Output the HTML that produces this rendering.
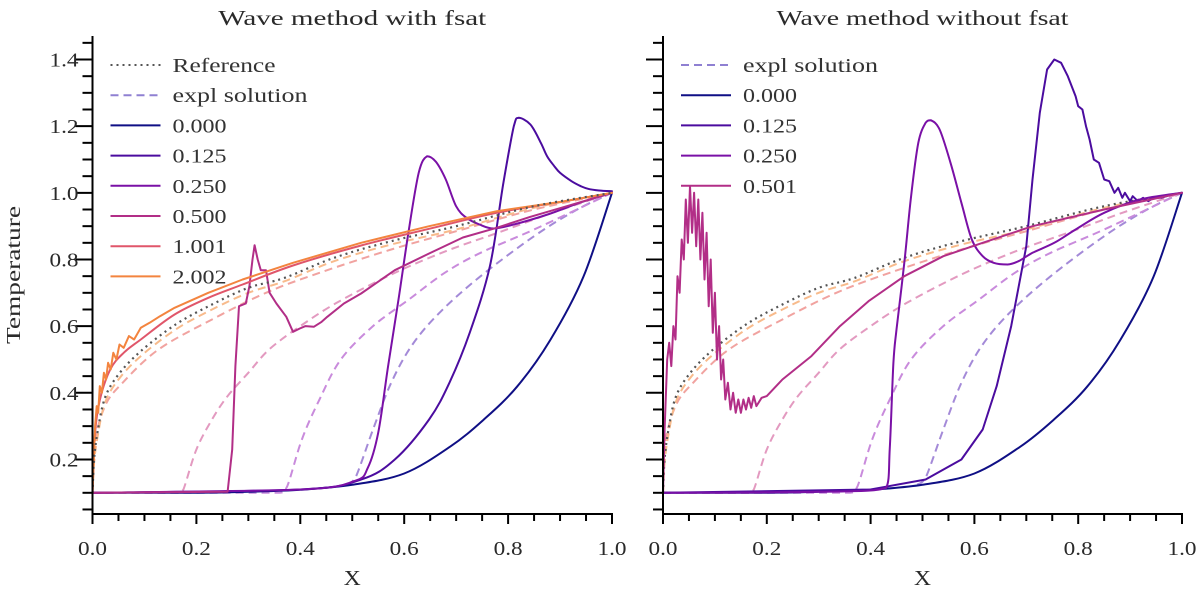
<!DOCTYPE html>
<html><head><meta charset="utf-8">
<style>
html,body{margin:0;padding:0;background:#fff;}
svg{display:block;font-family:"Liberation Serif","DejaVu Serif",serif;}
</style></head>
<body>
<svg id="chart" width="1200" height="590" viewBox="0 0 1200 590"></svg>
<script>
// ---------- shared data ----------
const xTicks = [0.0, 0.2, 0.4, 0.6, 0.8, 1.0];
const yTicks = [0.2, 0.4, 0.6, 0.8, 1.0, 1.2, 1.4];
const legendLeft = ["Reference", "expl solution", "0.000", "0.125", "0.250", "0.500", "1.001", "2.002"];
const legendRight = ["expl solution", "0.000", "0.125", "0.250", "0.501"];

const refX = [0, 0.003, 0.01, 0.024, 0.05, 0.093, 0.16, 0.23, 0.3, 0.37, 0.465, 0.575, 0.7, 0.85, 1.0];
const refY = [0.1, 0.2, 0.285, 0.385, 0.455, 0.525, 0.605, 0.665, 0.715, 0.745, 0.805, 0.855, 0.9, 0.96, 1.0];

const navyX = [0, 0.2, 0.3, 0.4, 0.5, 0.6, 0.688, 0.752, 0.817, 0.881, 0.945, 1.0];
const navyY = [0.1, 0.1, 0.103, 0.109, 0.124, 0.158, 0.238, 0.318, 0.418, 0.558, 0.748, 1.0];

const e125X = [0.49, 0.506, 0.54, 0.575, 0.616, 0.671, 0.747, 0.85, 0.933, 1.0];
const e125Y = [0.125, 0.145, 0.29, 0.43, 0.545, 0.645, 0.75, 0.87, 0.95, 1.0];
const e250X = [0, 0.36, 0.375, 0.403, 0.437, 0.478, 0.54, 0.609, 0.678, 0.747, 0.85, 1.0];
const e250Y = [0.1, 0.1, 0.12, 0.26, 0.38, 0.5, 0.6, 0.68, 0.76, 0.82, 0.89, 1.0];
const e500X = [0, 0.165, 0.175, 0.2, 0.23, 0.26, 0.3, 0.34, 0.4, 0.47, 0.575, 0.68, 0.78, 0.885, 1.0];
const e500Y = [0.1, 0.1, 0.11, 0.23, 0.32, 0.39, 0.46, 0.53, 0.6, 0.67, 0.755, 0.825, 0.88, 0.94, 1.0];
const e1X = [0, 0.003, 0.024, 0.058, 0.127, 0.23, 0.334, 0.437, 0.575, 0.712, 0.85, 1.0];
const e1Y = [0.1, 0.24, 0.36, 0.43, 0.53, 0.62, 0.70, 0.76, 0.83, 0.89, 0.95, 1.0];
const e2X = [0, 0.003, 0.01, 0.024, 0.05, 0.093, 0.16, 0.23, 0.3, 0.37, 0.465, 0.575, 0.7, 0.85, 1.0];
const e2Y = [0.1, 0.19, 0.27, 0.37, 0.44, 0.51, 0.59, 0.65, 0.7, 0.735, 0.795, 0.845, 0.89, 0.955, 1.0];

// ---------- left panel (with fsat) ----------
const L125X = [0, 0.4, 0.517, 0.582, 0.648, 0.687, 0.726, 0.765, 0.791, 0.811, 0.82, 0.843, 0.863, 0.875, 0.889, 0.9, 0.922, 0.94, 0.954, 0.975, 1.0];
const L125Y = [0.1, 0.11, 0.14, 0.2, 0.32, 0.43, 0.58, 0.78, 1.03, 1.2, 1.225, 1.205, 1.15, 1.11, 1.08, 1.06, 1.035, 1.02, 1.012, 1.007, 1.005];
const L250X = [0, 0.4, 0.504, 0.53, 0.55, 0.569, 0.589, 0.608, 0.628, 0.644, 0.661, 0.68, 0.7, 0.72, 0.745, 0.772, 0.811, 0.876, 0.941, 1.0];
const L250Y = [0.1, 0.11, 0.135, 0.175, 0.28, 0.48, 0.68, 0.88, 1.06, 1.11, 1.093, 1.04, 0.96, 0.925, 0.905, 0.893, 0.905, 0.935, 0.972, 1.0];
const L500X = [0, 0.26, 0.269, 0.275, 0.282, 0.295, 0.302, 0.308, 0.312, 0.318, 0.324, 0.334, 0.341, 0.354, 0.373, 0.386, 0.399, 0.41, 0.426, 0.44, 0.452, 0.484, 0.517, 0.582, 0.648, 0.713, 0.778, 0.843, 0.909, 1.0];
const L500Y = [0.1, 0.103, 0.23, 0.48, 0.66, 0.668, 0.72, 0.8, 0.843, 0.8, 0.768, 0.768, 0.7, 0.668, 0.628, 0.583, 0.593, 0.6, 0.598, 0.612, 0.628, 0.668, 0.698, 0.768, 0.818, 0.866, 0.895, 0.928, 0.958, 1.0];
const L1X = [0, 0.005, 0.014, 0.034, 0.06, 0.093, 0.158, 0.223, 0.289, 0.386, 0.517, 0.648, 0.778, 0.909, 1.0];
const L1Y = [0.1, 0.28, 0.378, 0.47, 0.52, 0.56, 0.635, 0.685, 0.725, 0.782, 0.842, 0.892, 0.94, 0.975, 1.0];
const L2X = [0, 0.005, 0.008, 0.011, 0.014, 0.018, 0.022, 0.026, 0.03, 0.035, 0.04, 0.046, 0.052, 0.06, 0.07, 0.08, 0.093, 0.11, 0.13, 0.158, 0.223, 0.289, 0.386, 0.517, 0.648, 0.778, 0.909, 1.0];
const L2Y = [0.1, 0.3, 0.36, 0.34, 0.42, 0.4, 0.46, 0.44, 0.49, 0.47, 0.52, 0.5, 0.545, 0.535, 0.57, 0.56, 0.595, 0.61, 0.63, 0.655, 0.7, 0.74, 0.79, 0.85, 0.9, 0.945, 0.975, 1.0];

// ---------- right panel (without fsat) ----------
const R125X = [0, 0.4, 0.506, 0.575, 0.616, 0.643, 0.671, 0.7, 0.712, 0.726, 0.74, 0.754, 0.767, 0.78, 0.795, 0.8, 0.808, 0.815, 0.822, 0.83, 0.84, 0.85, 0.86, 0.87, 0.877, 0.885, 0.89, 0.9, 0.905, 0.915, 0.925, 0.935, 0.945, 0.96, 0.98, 1.0];
const R125Y = [0.1, 0.11, 0.14, 0.2, 0.29, 0.42, 0.6, 0.84, 1.04, 1.24, 1.37, 1.4, 1.39, 1.35, 1.29, 1.26, 1.25, 1.2, 1.16, 1.1, 1.09, 1.04, 1.035, 1.0, 1.015, 0.985, 1.0, 0.975, 0.99, 0.975, 0.985, 0.975, 0.985, 0.985, 0.995, 1.0];
const R250X = [0, 0.3, 0.43, 0.437, 0.444, 0.45, 0.465, 0.478, 0.492, 0.506, 0.516, 0.533, 0.554, 0.575, 0.595, 0.616, 0.637, 0.664, 0.685, 0.712, 0.754, 0.795, 0.85, 0.919, 1.0];
const R250Y = [0.1, 0.103, 0.115, 0.235, 0.49, 0.59, 0.79, 0.99, 1.15, 1.21, 1.218, 1.19, 1.09, 0.97, 0.86, 0.81, 0.79, 0.785, 0.795, 0.82, 0.85, 0.89, 0.94, 0.98, 1.0];
const R501X = [0, 0.003, 0.008, 0.012, 0.016, 0.02, 0.024, 0.028, 0.032, 0.036, 0.04, 0.044, 0.048, 0.052, 0.056, 0.06, 0.064, 0.068, 0.072, 0.076, 0.08, 0.084, 0.088, 0.092, 0.096, 0.1, 0.104, 0.108, 0.112, 0.116, 0.12, 0.125, 0.13, 0.135, 0.14, 0.145, 0.15, 0.155, 0.16, 0.165, 0.17, 0.175, 0.18, 0.19, 0.2, 0.23, 0.286, 0.341, 0.396, 0.465, 0.54, 0.616, 0.712, 0.85, 1.0];
const R501Y = [0.1, 0.29, 0.5, 0.55, 0.48, 0.6, 0.56, 0.75, 0.7, 0.86, 0.8, 0.98, 0.85, 1.02, 0.88, 1.0, 0.84, 0.98, 0.8, 0.94, 0.74, 0.88, 0.66, 0.8, 0.58, 0.7, 0.5, 0.6, 0.44, 0.5, 0.38, 0.43, 0.35, 0.4, 0.34, 0.38, 0.34, 0.38, 0.35, 0.385, 0.355, 0.39, 0.36, 0.385, 0.39, 0.44, 0.51, 0.6, 0.675, 0.75, 0.81, 0.85, 0.9, 0.95, 1.0];

// ---------- rendering ----------
const NS = "http://www.w3.org/2000/svg";
const svg = document.getElementById("chart");
const yOf = v => 492.8 - 333.3 * (v - 0.1);
function mk(tag, attrs, parent) {
  const e = document.createElementNS(NS, tag);
  for (const k in attrs) e.setAttribute(k, attrs[k]);
  (parent || svg).appendChild(e);
  return e;
}
const C = {
  navy: "#0f0f85", c125: "#4b0c9f", c250: "#7a10a6", c500: "#b22e87", c1: "#e0566a", c2: "#f3843f",
  e125: "#a48ad8", e250: "#c98bdc", e500: "#e39ac0", e1: "#f1a3a0", e2: "#f8bb8c", ref: "#555555"
};
const TXT = "#2a2a2a";
const clamp = (v, a, b) => Math.max(Math.min(a, b), Math.min(Math.max(a, b), v));

function pathOf(pts, smooth) {
  if (!smooth) return pts.map((p, i) => (i ? "L" : "M") + p[0].toFixed(1) + " " + p[1].toFixed(1)).join("");
  let d = "M" + pts[0][0].toFixed(1) + " " + pts[0][1].toFixed(1);
  for (let i = 0; i < pts.length - 1; i++) {
    const p0 = pts[Math.max(0, i - 1)], p1 = pts[i], p2 = pts[i + 1], p3 = pts[Math.min(pts.length - 1, i + 2)];
    const c1x = clamp(p1[0] + (p2[0] - p0[0]) / 6, p1[0], p2[0]), c1y = clamp(p1[1] + (p2[1] - p0[1]) / 6, p1[1], p2[1]);
    const c2x = clamp(p2[0] - (p3[0] - p1[0]) / 6, p1[0], p2[0]), c2y = clamp(p2[1] - (p3[1] - p1[1]) / 6, p1[1], p2[1]);
    d += "C" + c1x.toFixed(1) + " " + c1y.toFixed(1) + " " + c2x.toFixed(1) + " " + c2y.toFixed(1) + " " + p2[0].toFixed(1) + " " + p2[1].toFixed(1);
  }
  return d;
}

function label(parent, txt, attrs, len, name) {
  const t = mk("text", attrs, parent);
  t.textContent = txt;
  if (len) { t.setAttribute("textLength", len); t.setAttribute("lengthAdjust", "spacingAndGlyphs"); }
  
  
  return t;
}

function panel(name, x0, x1, title, showYLabels, series, legend) {
  const g = mk("g", {});
  
  
  const xOf = x => x0 + (x1 - x0) * x;
  const plot = mk("g", {}, g);
  
  
  series.forEach(s => {
    const pts = s.xs.map((x, i) => [xOf(x), yOf(s.ys[i])]);
    const p = mk("path", { d: pathOf(pts, s.smooth), fill: "none", stroke: s.color, "stroke-width": s.w || 2, "stroke-linejoin": "round", "stroke-linecap": s.dash ? "butt" : "round" }, plot);
    if (s.dash) p.setAttribute("stroke-dasharray", s.dash);
    
    
  });
  const ax = mk("g", { stroke: "#000", "stroke-width": 2 }, g);
  
  
  mk("line", { x1: x0, y1: 36, x2: x0, y2: 515 }, ax);
  mk("line", { x1: x0 - 1, y1: 514, x2: x1 + 1, y2: 514 }, ax);
  for (let i = 0; i <= 20; i++) {
    const x = xOf(i / 20), major = i % 4 === 0;
    mk("line", { x1: x, y1: 514, x2: x, y2: 514 + (major ? 10 : 7) }, ax);
  }
  for (let i = 1; i <= 29; i++) {
    const v = i * 0.05, y = yOf(v), major = i % 4 === 0;
    if (y < 37) continue;
    mk("line", { x1: x0, y1: y, x2: x0 - (major ? 17 : 10), y2: y }, ax);
  }
  xTicks.forEach(t => label(g, t.toFixed(1), { x: xOf(t), y: 555, "text-anchor": "middle", "font-size": 20, fill: TXT }, 29, 'x-tick-label'));
  if (showYLabels) yTicks.forEach(t => label(g, t.toFixed(1), { x: x0 - 14, y: yOf(t) + 7, "text-anchor": "end", "font-size": 20, fill: TXT }, 29, 'y-tick-label'));
  label(g, "X", { x: (x0 + x1) / 2, y: 585, "text-anchor": "middle", "font-size": 21, fill: TXT }, 17, 'x-axis-title');
  label(g, title, { x: (x0 + x1) / 2, y: 25, "text-anchor": "middle", "font-size": 21, fill: TXT }, title.length > 22 ? 292 : 268, 'panel-title');
  const lg = mk("g", {}, g);
  
  
  legend.forEach((item, i) => {
    const y = 65 + i * 30.2;
    const ln = mk("line", { x1: x0 + 18, y1: y, x2: x0 + 68, y2: y, stroke: item.color, "stroke-width": 2 }, lg);
    if (item.dash) ln.setAttribute("stroke-dasharray", item.dash);
    
    
    const len = item.label === "Reference" ? 103 : item.label === "expl solution" ? 135 : 54;
    label(lg, item.label, { x: x0 + 80, y: y + 7, "font-size": 20, fill: "#333" }, len, 'legend-entry');
  });
}

const shared = [
  { name: "expl-0125", xs: e125X, ys: e125Y, color: C.e125, dash: "8 5", smooth: true },
  { name: "expl-0250", xs: e250X, ys: e250Y, color: C.e250, dash: "8 5", smooth: true },
  { name: "expl-0500", xs: e500X, ys: e500Y, color: C.e500, dash: "8 5", smooth: true },
  { name: "expl-1001", xs: e1X, ys: e1Y, color: C.e1, dash: "8 5", smooth: true },
  { name: "expl-2002", xs: e2X, ys: e2Y, color: C.e2, dash: "8 5", smooth: true }
];
const refS = { name: "reference-line", xs: refX, ys: refY, color: C.ref, dash: "2 4", w: 2.2, smooth: true };

panel("left-panel", 92.5, 612, "Wave method with fsat", true,
  shared.concat([
    { name: "line-0000", xs: navyX, ys: navyY, color: C.navy, smooth: true },
    { name: "line-0125", xs: L125X, ys: L125Y, color: C.c125, smooth: true },
    { name: "line-0250", xs: L250X, ys: L250Y, color: C.c250, smooth: true },
    { name: "line-0500", xs: L500X, ys: L500Y, color: C.c500 },
    { name: "line-1001", xs: L1X, ys: L1Y, color: C.c1, smooth: true },
    { name: "line-2002", xs: L2X, ys: L2Y, color: C.c2 },
    refS
  ]),
  [
    { label: legendLeft[0], color: C.ref, dash: "2 4" },
    { label: legendLeft[1], color: "#8f80d2", dash: "8 5" },
    { label: legendLeft[2], color: C.navy },
    { label: legendLeft[3], color: C.c125 },
    { label: legendLeft[4], color: C.c250 },
    { label: legendLeft[5], color: C.c500 },
    { label: legendLeft[6], color: C.c1 },
    { label: legendLeft[7], color: C.c2 }
  ]);

panel("right-panel", 663, 1182, "Wave method without fsat", false,
  shared.concat([
    refS,
    { name: "line-0000", xs: navyX, ys: navyY, color: C.navy, smooth: true },
    { name: "line-0125", xs: R125X, ys: R125Y, color: C.c125 },
    { name: "line-0250", xs: R250X, ys: R250Y, color: C.c250, smooth: true },
    { name: "line-0501", xs: R501X, ys: R501Y, color: C.c500 }
  ]),
  [
    { label: legendRight[0], color: "#8f80d2", dash: "8 5" },
    { label: legendRight[1], color: C.navy },
    { label: legendRight[2], color: C.c125 },
    { label: legendRight[3], color: C.c250 },
    { label: legendRight[4], color: C.c500 }
  ]);

label(svg, "Temperature", { x: 20, y: 275, "text-anchor": "middle", "font-size": 20, fill: TXT, transform: "rotate(-90 20 275)" }, 138, 'y-axis-title');
</script>
</body></html>
